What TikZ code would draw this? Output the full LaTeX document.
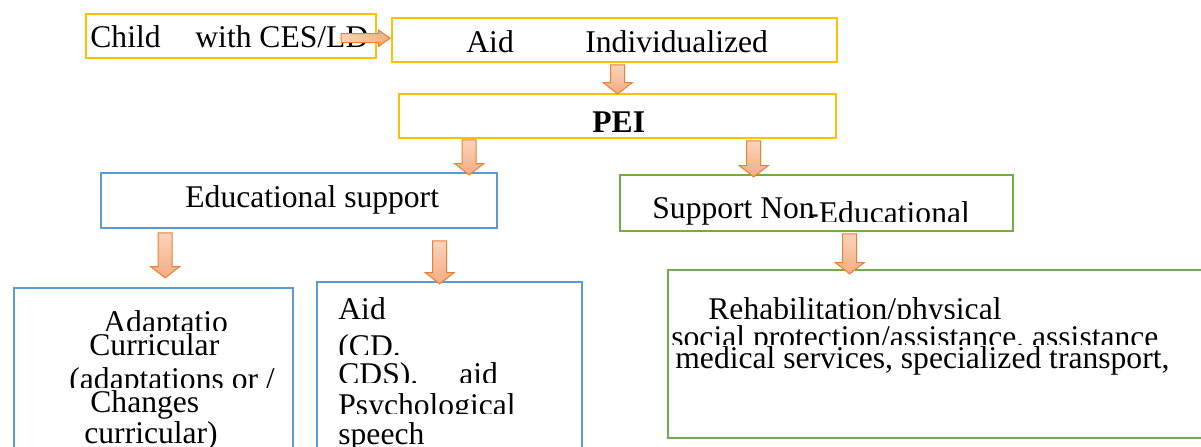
\documentclass[tikz,border=0pt]{standalone}
\usepackage{fontspec}
\setmainfont{Liberation Serif}
\definecolor{gold}{HTML}{FFC000}
\definecolor{sky}{HTML}{5B9BD5}
\definecolor{leaf}{HTML}{70AD47}
\definecolor{arrline}{HTML}{ED7D31}
\definecolor{arrlight}{HTML}{F9D3BC}
\definecolor{arrdark}{HTML}{F4AD80}
\usetikzlibrary{positioning, shapes.arrows}
\tikzset{
  box/.style={draw, line width=1.2pt, minimum height=22pt, anchor=north west, inner sep=0pt},
  txt/.style={font=\fontsize{15.8}{18}\selectfont, inner sep=0pt, anchor=base west},
  vblock/.style={single arrow, draw=arrline, line width=0.5pt, top color=arrlight, bottom color=arrdark,
    inner sep=3.25pt, single arrow head extend=3.75pt, single arrow tip angle=104,
    shape border rotate=270, anchor=tail},
  hblock/.style={single arrow, draw=arrline, line width=0.5pt, left color=arrlight, right color=arrdark,
    inner sep=2pt, single arrow head extend=1.75pt, single arrow tip angle=70,
    minimum height=24.5pt, anchor=tip}
}

\begin{document}
\begin{tikzpicture}[x=0.5pt, y=-0.5pt]
  \useasboundingbox (0,0) rectangle (1201,446);
  \clip (0,0) rectangle (1201,446);

  % boxes
  \node[box, draw=gold, minimum width=145pt] (child) at (85,13) {};
  \node[box, draw=gold, minimum width=222.5pt] (aid) at (391,17) {};
  \node[box, draw=gold, minimum width=218.5pt] (pei) at (398,93) {};
  \node[box, draw=sky, minimum width=198pt, minimum height=27.5pt] (edu) at (100,172) {};
  \node[box, draw=leaf, minimum width=196.5pt, minimum height=28pt] (noned) at (619,174) {};
  \node[box, draw=sky, minimum width=139.5pt, minimum height=100pt] (adapt) at (13,287) {};
  \node[box, draw=sky, minimum width=132.5pt, minimum height=100pt] (aidcd) at (316,281) {};
  \node[box, draw=leaf, minimum width=281.5pt, minimum height=84pt] (rehab) at (667,269) {};

  % top rows
  \node[txt] (t-child) at (90,47) {Child};
  \node[txt] (t-with) at (195,47) {with CES/LD};
  \node[txt] (t-aid) at (466,52) {Aid};
  \node[txt] (t-indiv) at (585,52) {Individualized};
  \node[txt, font=\fontsize{15.8}{18}\selectfont\bfseries] (t-pei) at (592,132) {PEI};
  \node[txt] (t-edu) at (185,207) {Educational support};
  \node[txt] (t-support) at (652,218) {Support Non};
  \begin{scope}
    \clip (800,190) rectangle (1000,221);
    \node[txt] (t-educ) at (808,223) {-Educational};
  \end{scope}

  % curricular adaptation box
  \begin{scope}
    \clip (15,300) rectangle (290,330);
    \node[txt] (t-adapt) at (103,332.5) {Adaptatio};
  \end{scope}
  \node[txt] (t-curr) at (89,355) {Curricular};
  \begin{scope}
    \clip (15,360) rectangle (290,387);
    \node[txt] (t-adapts) at (69,389) {(adaptations or /};
  \end{scope}
  \node[txt] (t-changes) at (90,412) {Changes};
  \node[txt] (t-currb) at (84,443) {curricular)};

  % aid box
  \node[txt] (t-aidb) at (338,319) {Aid};
  \begin{scope}
    \clip (320,330) rectangle (578,354);
    \node[txt] (t-cd) at (338,356) {(CD.};
  \end{scope}
  \begin{scope}
    \clip (320,360) rectangle (578,382);
    \node[txt] (t-cds) at (338,384) {CDS).};
    \node[txt] (t-aidc) at (459,384) {aid};
  \end{scope}
  \begin{scope}
    \clip (320,390) rectangle (578,413);
    \node[txt] (t-psy) at (338,415) {Psychological};
  \end{scope}
  \node[txt] (t-speech) at (338,444) {speech};

  % non-educational box
  \begin{scope}
    \clip (670,290) rectangle (1200,318);
    \node[txt] (t-rehab) at (708,319) {Rehabilitation/physical};
  \end{scope}
  \begin{scope}
    \clip (670,322) rectangle (1200,344);
    \node[txt] (t-social) at (671,347) {social protection/assistance, assistance};
  \end{scope}
  \node[txt] (t-medical) at (675,368) {medical services, specialized transport,};

  % block arrows
  \node[hblock] (a-child) at ([yshift=1pt]aid.west) {};
  \node[vblock, minimum height=14.5pt] (a-aid) at ([xshift=1.5pt, yshift=-0.5pt]aid.south) {};
  \node[vblock, minimum height=17.5pt] (a-edu) at ([xshift=-74.25pt]pei.south) {};
  \node[vblock, minimum height=18pt] (a-non) at ([xshift=68pt, yshift=-0.5pt]pei.south) {};
  \node[vblock, minimum height=22.5pt] (a-adapt) at ([xshift=-67pt, yshift=-1.5pt]edu.south) {};
  \node[vblock, minimum height=21.5pt] (a-aidcd) at ([xshift=70.25pt, yshift=-5.5pt]edu.south) {};
  \node[vblock, minimum height=20pt] (a-rehab) at ([xshift=16.5pt, yshift=-0.5pt]noned.south) {};
\end{tikzpicture}
\end{document}
